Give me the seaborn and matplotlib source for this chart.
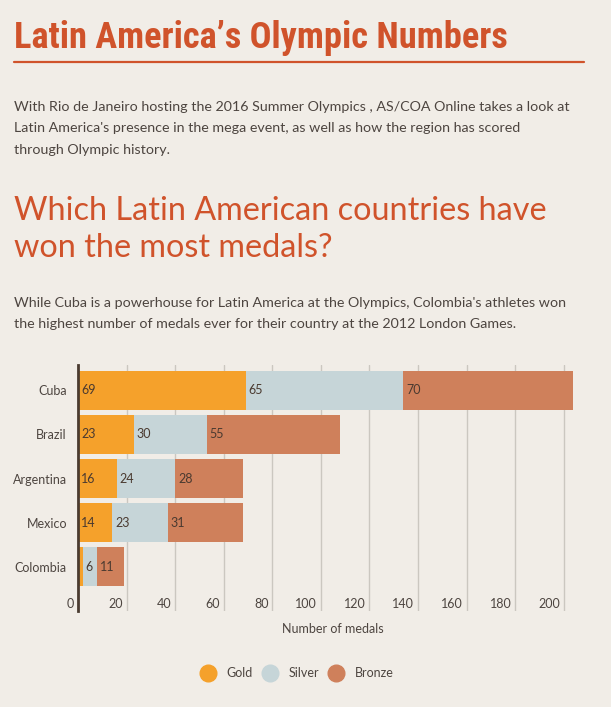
import numpy as np
import pandas as pd
import seaborn as sns
import matplotlib.pyplot as plt
from matplotlib.lines import Line2D
from matplotlib.transforms import blended_transform_factory

countries = ['Cuba', 'Brazil', 'Argentina', 'Mexico', 'Colombia']
gold = [69, 23, 16, 14, 2]
silver = [65, 30, 24, 23, 6]
bronze = [70, 55, 28, 31, 11]
medal_names = ['Gold', 'Silver', 'Bronze']
x_ticks = [0, 20, 40, 60, 80, 100, 120, 140, 160, 180, 200]

bg = '#f1ede7'
orange_red = '#d0532b'
txt = '#4d4540'
colors = {'Gold': '#f5a12b', 'Silver': '#c6d5d8', 'Bronze': '#cf805b'}

sns.set_style('white', {'axes.facecolor': bg, 'figure.facecolor': bg})
plt.rcParams['font.family'] = ['Lato', 'DejaVu Sans']

df = pd.DataFrame({'country': countries, 'Gold': gold, 'Silver': silver, 'Bronze': bronze})
df['gold_end'] = df['Gold']
df['silver_end'] = df['Gold'] + df['Silver']
df['bronze_end'] = df['silver_end'] + df['Bronze']

fig = plt.figure(figsize=(6.11, 7.07), dpi=100)
fig.patch.set_facecolor(bg)

# header texts
fig.text(14 / 611, 1 - 48 / 707, 'Latin America\u2019s Olympic Numbers', fontsize=26.2,
         fontweight='bold', color=orange_red,
         family=['Roboto Condensed', 'Liberation Sans Narrow', 'Lato'],
         va='baseline', ha='left')
fig.add_artist(Line2D([14 / 611, 584 / 611], [1 - 62 / 707] * 2, color=orange_red, lw=1.6))

intro = ("With Rio de Janeiro hosting the 2016 Summer Olympics , AS/COA Online takes a look at\n"
         "Latin America's presence in the mega event, as well as how the region has scored\n"
         "through Olympic history.")
fig.text(14 / 611, 1 - 101 / 707, intro, fontsize=10.3, color=txt, va='top', ha='left',
         linespacing=1.95)

fig.text(14 / 611, 1 - 196 / 707, 'Which Latin American countries have\nwon the most medals?',
         fontsize=23.3, color=orange_red, fontweight='normal', va='top', ha='left',
         linespacing=1.3)

lede = ("While Cuba is a powerhouse for Latin America at the Olympics, Colombia's athletes won\n"
        "the highest number of medals ever for their country at the 2012 London Games.")
fig.text(14 / 611, 1 - 297 / 707, lede, fontsize=10.3, color=txt, va='top', ha='left',
         linespacing=1.85)

# chart
ax = fig.add_axes([78 / 611, 1 - 611 / 707, 510 / 611, 246 / 707])
ax.set_facecolor(bg)
sns.barplot(data=df, x='bronze_end', y='country', orient='h', color=colors['Bronze'],
            saturation=1, width=0.89, linewidth=0, ax=ax)
sns.barplot(data=df, x='silver_end', y='country', orient='h', color=colors['Silver'],
            saturation=1, width=0.89, linewidth=0, ax=ax)
sns.barplot(data=df, x='gold_end', y='country', orient='h', color=colors['Gold'],
            saturation=1, width=0.89, linewidth=0, ax=ax)

ax.set_xlim(0, 210)
ax.set_ylim(5.0, -0.57)
ax.set_xticks(x_ticks)
ax.set_xticklabels([])
ax.grid(axis='x', color='#cbc7c0', lw=1)
ax.set_axisbelow(True)
for s in ['top', 'right', 'bottom']:
    ax.spines[s].set_visible(False)
ax.spines['left'].set_color('#4a3b30')
ax.spines['left'].set_linewidth(2)
ax.tick_params(axis='both', length=0)
ax.tick_params(axis='y', pad=8, labelsize=9, labelcolor=txt)
ax.set_ylabel('')
ax.set_xlabel('Number of medals', fontsize=9, color=txt, labelpad=5)

# tick labels drawn inside the axes, just left of each gridline
trans = blended_transform_factory(ax.transData, ax.transAxes)
for t in x_ticks:
    ax.text(t - 1.6, 0.028, str(t), transform=trans, ha='right', va='center',
            fontsize=9, color=txt)

# segment value labels
for i in range(len(countries)):
    starts = [0, gold[i], gold[i] + silver[i]]
    vals = [gold[i], silver[i], bronze[i]]
    for st, v in zip(starts, vals):
        if v < 5:
            continue
        ax.text(st + 1.2, i, str(v), ha='left', va='center', fontsize=9, color='#4a3a30')

handles = [Line2D([], [], marker='o', ls='', markersize=12, markerfacecolor=colors[m],
                  markeredgecolor=colors[m]) for m in medal_names]
fig.legend(handles, medal_names, loc='center', bbox_to_anchor=(297 / 611, 1 - 673 / 707),
           ncol=3, frameon=False, fontsize=9, labelcolor=txt, handletextpad=0.9,
           columnspacing=0.75, handlelength=1.2)

fig.savefig('out.png', dpi=100, facecolor=bg)
